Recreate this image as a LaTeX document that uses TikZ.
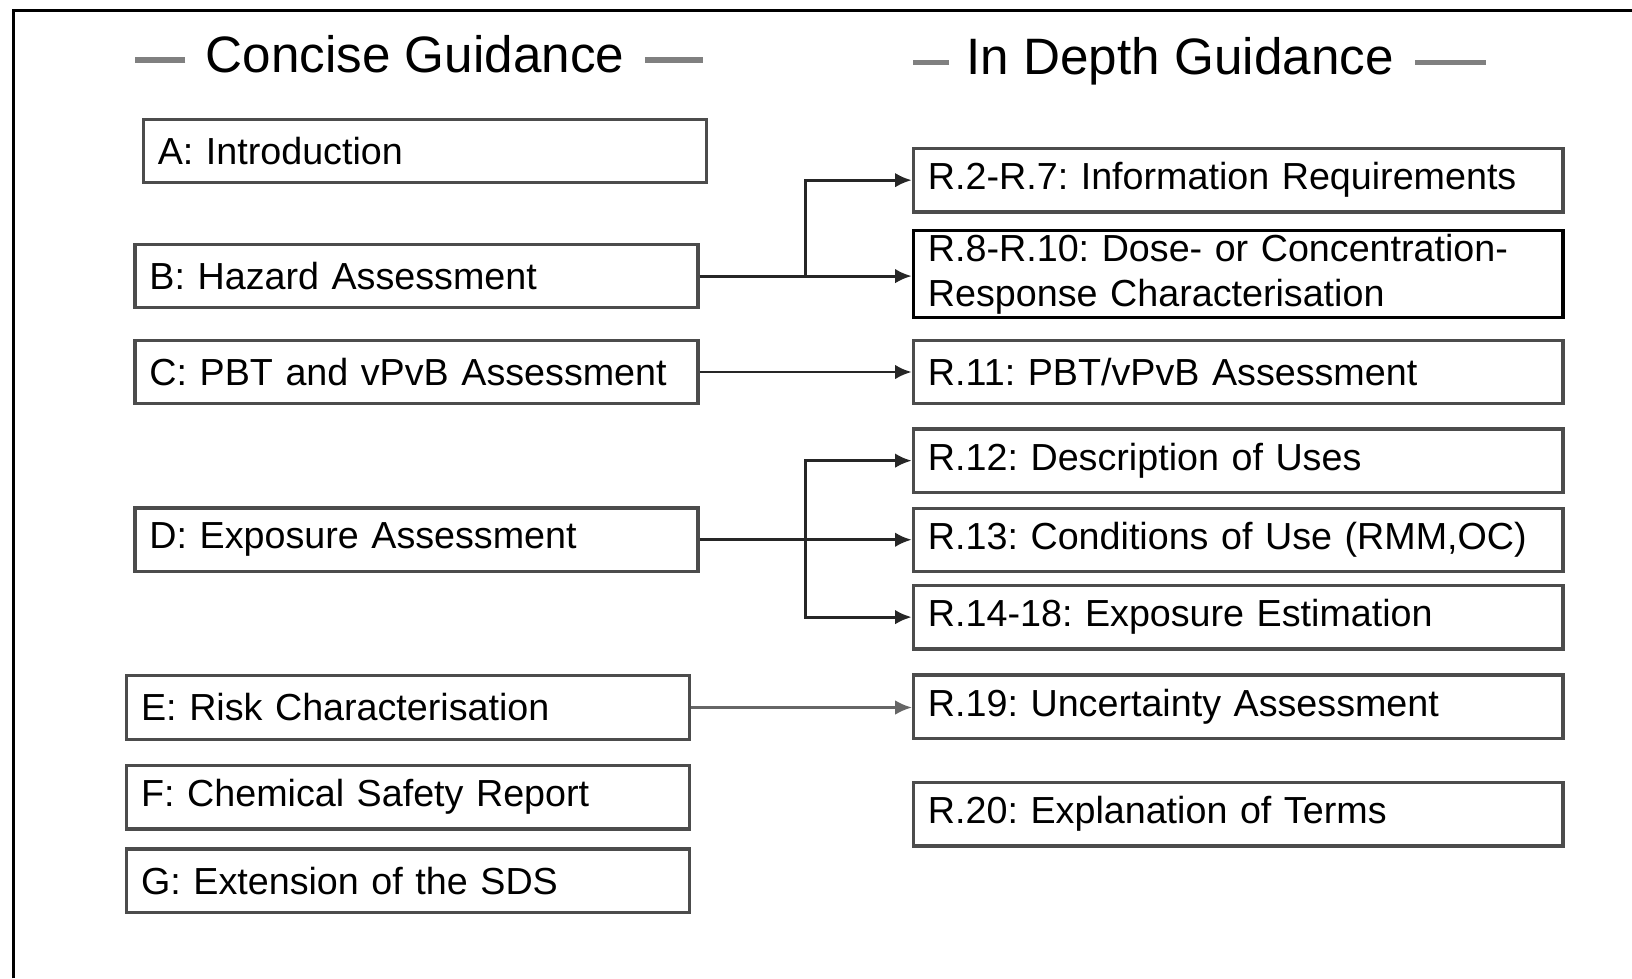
\documentclass[tikz,border=0pt]{standalone}
\usepackage{fontspec}
\setmainfont{Liberation Sans}
\usetikzlibrary{positioning,arrows.meta}
\frenchspacing

\begin{document}
\begin{tikzpicture}[>={Latex[length=1.6mm,width=1.4mm]},
    guide/.style={draw=black!70, line width=0.9pt, fill=white, minimum height=0.61cm, inner xsep=0.14cm, inner ysep=0pt, align=left, font=\fontsize{10.3}{12.3}\selectfont},
    shortbox/.style={guide, text width=5.13cm},
    longbox/.style={guide, text width=5.96cm},
    heading/.style={font=\fontsize{14}{16}\selectfont, inner sep=0pt},
    headdash/.style={draw=black!50, line width=1.6pt},
    link/.style={->, draw=black!85, line width=0.8pt}]
        \useasboundingbox (0,0) rectangle (15.68,-9.40);
        \draw[line width=0.9pt] (0.13,-9.40) -- (0.13,-0.10) -- (15.68,-0.10);
        % headings
        \node[heading, anchor=base west] (concise) at (1.97,-0.70) {Concise Guidance};
        \node[heading, anchor=base west] (indepth) at (9.28,-0.72) {In Depth Guidance};
        \draw[headdash] ([xshift=-0.19cm, yshift=0.12cm]concise.base west) -- ++(-0.48,0);
        \draw[headdash] ([xshift=0.19cm, yshift=0.12cm]concise.base east) -- ++(0.56,0);
        \draw[headdash] ([xshift=-0.16cm, yshift=0.12cm]indepth.base west) -- ++(-0.35,0);
        \draw[headdash] ([xshift=0.20cm, yshift=0.12cm]indepth.base east) -- ++(0.68,0);
        % concise column
        \node[shortbox, anchor=north west] (intro) at (1.36,-1.13) {A: Introduction};
        \node[shortbox, below=0.56cm of intro, xshift=-0.08cm] (hazard) {B: Hazard Assessment};
        \node[shortbox, below=0.28cm of hazard] (pbt) {C: PBT and vPvB Assessment};
        \node[shortbox, below=0.97cm of pbt] (exposure) {D: Exposure Assessment};
        \node[shortbox, below=0.97cm of exposure, xshift=-0.08cm] (risk) {E: Risk Characterisation};
        \node[shortbox, below=0.22cm of risk] (csr) {F: Chemical Safety Report};
        \node[shortbox, below=0.16cm of csr] (sds) {G: Extension of the SDS};
        % in depth column
        \node[longbox, anchor=north west] (inforeq) at (8.76,-1.41) {R.2-R.7: Information Requirements};
        \node[longbox, draw=black, minimum height=0.83cm, below=0.15cm of inforeq] (doseresp) {R.8-R.10: Dose- or Concentration-\\Response Characterisation};
        \node[longbox, below=0.19cm of doseresp] (pbtdepth) {R.11: PBT/vPvB Assessment};
        \node[longbox, below=0.21cm of pbtdepth] (uses) {R.12: Description of Uses};
        \node[longbox, below=0.12cm of uses] (conditions) {R.13: Conditions of Use (RMM,OC)};
        \node[longbox, below=0.10cm of conditions] (estimation) {R.14-18: Exposure Estimation};
        \node[longbox, below=0.22cm of estimation] (uncertainty) {R.19: Uncertainty Assessment};
        \node[longbox, below=0.39cm of uncertainty] (terms) {R.20: Explanation of Terms};
        % links
        \coordinate (hazsplit) at ([xshift=1.02cm]hazard.east);
        \coordinate (expsplit) at ([xshift=1.02cm]exposure.east);
        \draw[link] (hazard.east) -- (hazard.east -| doseresp.west);
        \draw[link] (hazsplit) |- (inforeq.west);
        \draw[link] (pbt.east) -- (pbt.east -| pbtdepth.west);
        \draw[link] (exposure.east) -- (exposure.east -| conditions.west);
        \draw[link] (expsplit) |- (uses.west);
        \draw[link] (expsplit) |- (estimation.west);
        \draw[link, draw=black!60, line width=0.6pt] (risk.east) -- (risk.east -| uncertainty.west);
    \end{tikzpicture}
\end{document}
